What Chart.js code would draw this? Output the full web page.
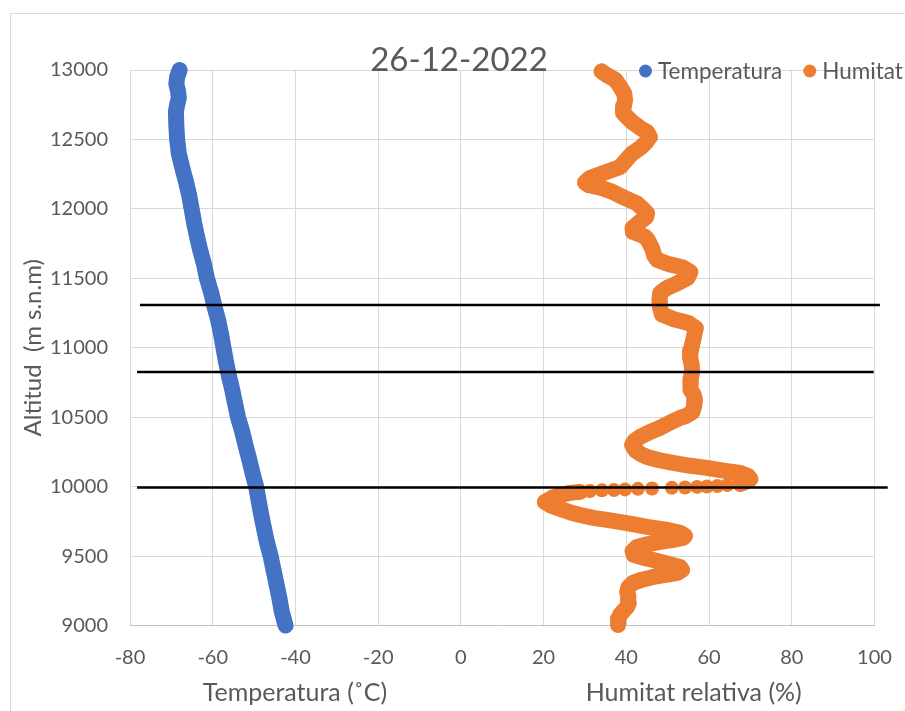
<!DOCTYPE html>
<html>
<head>
<meta charset="utf-8">
<title>26-12-2022</title>
<script src="https://cdn.jsdelivr.net/npm/chart.js@4.4.1/dist/chart.umd.min.js"></script>
<style>
  html, body { margin: 0; padding: 0; background: #ffffff; overflow: hidden; }
  #wrap { position: relative; width: 905px; height: 711px; }
  #frame { position: absolute; left: 10px; top: 13px; width: 1000px; height: 1000px;
           border: 1px solid #d9d9d9; box-sizing: border-box; }
  canvas { position: absolute; left: 0; top: 0; }
</style>
</head>
<body>
<div id="wrap">
  <div id="frame"></div>
  <canvas id="chart" width="905" height="711"></canvas>
</div>
<script>
// Radiosonde profile, 26-12-2022: temperature and relative humidity vs altitude
const chartTitle = '26-12-2022';
const xAxisTitle = 'Temperatura (˚C)' + ' '.repeat(31) + 'Humitat relativa (%)';
const yAxisTitle = 'Altitud  (m s.n.m)';
const xTickValues = [-80, -60, -40, -20, 0, 20, 40, 60, 80, 100];
const yTickValues = [9000, 9500, 10000, 10500, 11000, 11500, 12000, 12500, 13000];

// Temperature (°C) by altitude (m)
const altitudeTemp = [13000, 12950, 12900, 12850, 12800, 12750, 12700, 12600, 12500, 12400,
  12300, 12200, 12100, 12000, 11900, 11800, 11700, 11600, 11500, 11400,
  11300, 11200, 11100, 11000, 10900, 10800, 10700, 10600, 10500, 10400,
  10300, 10200, 10100, 10000, 9900, 9800, 9700, 9600, 9500, 9400,
  9300, 9200, 9100, 9000];
const temperatura = [-68.0, -68.6, -68.8, -68.4, -68.2, -68.6, -68.9, -68.8, -68.6, -68.2,
  -67.4, -66.5, -65.7, -65.1, -64.5, -63.8, -63.0, -62.1, -61.4, -60.4,
  -59.6, -58.7, -58.0, -57.4, -56.8, -56.1, -55.3, -54.6, -53.9, -52.9,
  -52.1, -51.2, -50.4, -49.5, -48.9, -48.3, -47.6, -46.9, -46.0, -45.3,
  -44.6, -43.9, -43.3, -42.4];

// Relative humidity (%) by altitude (m)
const altitudeHum = [12990, 12960, 12930, 12880, 12830, 12784, 12740, 12690, 12626, 12580,
  12554, 12518, 12480, 12438, 12400, 12374, 12302, 12258, 12222, 12190,
  12170, 12150, 12124, 12080, 12040, 12000, 11968, 11940, 11900, 11860,
  11834, 11800, 11776, 11718, 11660, 11632, 11600, 11580, 11545, 11503,
  11467, 11430, 11395, 11344, 11294, 11240, 11205, 11179, 11140, 11100,
  11035, 10980, 10927, 10880, 10826, 10780, 10747, 10700, 10660, 10624,
  10580, 10538, 10510, 10495, 10460, 10423, 10390, 10358, 10330, 10300,
  10260, 10230, 10214, 10190, 10171, 10150, 10135, 10115, 10099, 10075,
  10055, 10040, 10028, 10019, 10012, 10005, 10001, 9998, 9994, 9991,
  9987, 9984, 9980, 9976, 9973, 9969, 9962, 9955, 9940, 9919,
  9890, 9860, 9832, 9810, 9796, 9775, 9760, 9735, 9710, 9690,
  9667, 9645, 9631, 9615, 9602, 9585, 9566, 9535, 9508, 9490,
  9472, 9445, 9422, 9400, 9379, 9365, 9350, 9330, 9307, 9275,
  9242, 9210, 9184, 9160, 9134, 9105, 9076, 9050, 9026, 9004];
const humitat = [34.0, 35.5, 37.3, 38.5, 39.5, 39.7, 39.4, 39.2, 41.4, 43.5,
  45.0, 45.7, 44.8, 43.3, 41.5, 40.6, 38.5, 34.5, 31.2, 30.0,
  31.0, 34.0, 36.5, 39.5, 42.5, 44.0, 45.0, 44.8, 43.0, 41.5,
  41.6, 44.5, 45.2, 46.2, 46.8, 47.5, 50.5, 53.5, 55.5, 54.8,
  52.5, 49.8, 48.2, 48.0, 48.1, 48.6, 51.5, 55.0, 56.8, 56.5,
  56.0, 55.6, 55.4, 55.8, 55.9, 55.6, 55.4, 55.6, 56.3, 56.6,
  56.4, 56.0, 54.5, 53.0, 50.5, 48.1, 45.5, 43.3, 42.0, 41.4,
  42.2, 43.8, 45.0, 48.0, 51.3, 55.5, 59.5, 63.5, 67.5, 69.5,
  70.0, 69.3, 68.3, 67.5, 64.4, 62.0, 59.5, 57.1, 54.2, 51.0,
  46.2, 42.8, 39.7, 37.0, 34.1, 31.2, 28.8, 26.4, 24.0, 22.0,
  20.3, 22.0, 24.7, 27.0, 28.8, 32.0, 35.3, 40.5, 45.0, 49.5,
  53.0, 54.2, 53.7, 51.0, 48.1, 45.0, 42.6, 41.5, 41.8, 43.8,
  46.5, 50.0, 53.0, 53.5, 52.3, 49.5, 46.5, 43.8, 41.6, 40.5,
  40.2, 40.5, 40.4, 40.6, 40.2, 39.3, 38.5, 38.1, 38.0, 38.0];

// Layer where the humidity soundings are spread out (drawn as separate dots)
const sparseLayerBottom = 9960;
const sparseLayerTop = 10020;

// Reference levels (m) and their horizontal extent in axis units
const refAltitudes = [11308, 10825, 9993];
const refFrom = [-77.6, -78.3, -78.3];
const refTo = [101.3, 99.8, 103.2];

const FONT = 'Lato, "Open Sans", "Liberation Sans", sans-serif';
const TEXT = '#595959';
const GRID = '#d9d9d9';
const BLUE = '#4472c4';
const ORANGE = '#ed7d31';

const toPoints = (xs, ys) => xs.map((v, i) => ({ x: v, y: ys[i] }));

const seriesStyle = {
  showLine: true,
  borderWidth: 16,
  borderCapStyle: 'round',
  borderJoinStyle: 'round',
  tension: 0,
  fill: false,
  pointRadius: 7,
  pointHoverRadius: 7,
  pointBorderWidth: 0,
  clip: false
};

const inSparseLayer = (i) => altitudeHum[i] >= sparseLayerBottom && altitudeHum[i] <= sparseLayerTop;

const datasets = [
  Object.assign({
    label: 'Temperatura',
    data: toPoints(temperatura, altitudeTemp),
    borderColor: BLUE,
    backgroundColor: BLUE,
    pointBackgroundColor: BLUE,
    order: 2,
    isSeries: true
  }, seriesStyle),
  Object.assign({
    label: 'Humitat',
    data: toPoints(humitat, altitudeHum),
    borderColor: ORANGE,
    backgroundColor: ORANGE,
    pointBackgroundColor: ORANGE,
    order: 1,
    isSeries: true,
    segment: {
      borderColor: ctx => (inSparseLayer(ctx.p0DataIndex) && inSparseLayer(ctx.p1DataIndex))
        ? 'rgba(0,0,0,0)' : ORANGE
    }
  }, seriesStyle)
];

refAltitudes.forEach((alt, i) => {
  datasets.push({
    label: 'ref' + i,
    data: [{ x: refFrom[i], y: alt }, { x: refTo[i], y: alt }],
    showLine: true,
    borderColor: '#000000',
    backgroundColor: '#000000',
    borderWidth: 2.5,
    pointRadius: 0,
    pointHoverRadius: 0,
    clip: false,
    order: 0
  });
});

// Title and legend share the top row, above the plot
const headerPlugin = {
  id: 'header',
  afterDraw(chart) {
    const ctx = chart.ctx;
    ctx.save();
    ctx.fillStyle = TEXT;
    ctx.textBaseline = 'alphabetic';
    ctx.textAlign = 'center';
    ctx.font = '33px ' + FONT;
    ctx.fillText(chartTitle, 459, 70.5);

    ctx.textAlign = 'left';
    ctx.font = '22.5px ' + FONT;
    let x = 639;
    chart.data.datasets.filter(d => d.isSeries).forEach(d => {
      ctx.fillStyle = d.backgroundColor;
      ctx.beginPath();
      ctx.arc(x + 6.5, 71, 6.5, 0, Math.PI * 2);
      ctx.fill();
      ctx.fillStyle = TEXT;
      ctx.fillText(d.label, x + 19, 79);
      x += 19 + ctx.measureText(d.label).width + 21;
    });
    ctx.restore();
  }
};

new Chart(document.getElementById('chart'), {
  type: 'scatter',
  data: { datasets },
  plugins: [headerPlugin],
  options: {
    responsive: false,
    animation: false,
    devicePixelRatio: 1,
    events: [],
    layout: { padding: { left: 12, right: 30.5, top: 70, bottom: 0 } },
    plugins: {
      legend: { display: false },
      title: { display: false },
      tooltip: { enabled: false }
    },
    scales: {
      x: {
        type: 'linear',
        min: -80,
        max: 100,
        afterBuildTicks: s => { s.ticks = xTickValues.map(v => ({ value: v })); },
        afterFit: s => { s.height = 85.5; },
        grid: { color: GRID, lineWidth: 1, drawTicks: false },
        border: { display: true, color: '#bfbfbf', width: 1 },
        ticks: {
          color: TEXT, font: { family: FONT, size: 20, lineHeight: 2.0 }, padding: 12,
          callback: v => String(v)
        },
        title: {
          display: true, text: xAxisTitle, color: TEXT,
          font: { family: FONT, size: 25 }, padding: { top: 0, bottom: 3 }
        }
      },
      y: {
        type: 'linear',
        min: 9000,
        max: 13000,
        afterBuildTicks: s => { s.ticks = yTickValues.map(v => ({ value: v })); },
        afterFit: s => { s.width = 118; },
        grid: { color: GRID, lineWidth: 1, drawTicks: false },
        border: { display: false },
        ticks: {
          color: TEXT, font: { family: FONT, size: 20 }, padding: 22,
          callback: v => String(v)
        },
        title: {
          display: true, text: yAxisTitle, color: TEXT,
          font: { family: FONT, size: 24 }, padding: { top: 6.6, bottom: 0 }
        }
      }
    }
  }
});
</script>
</body>
</html>
